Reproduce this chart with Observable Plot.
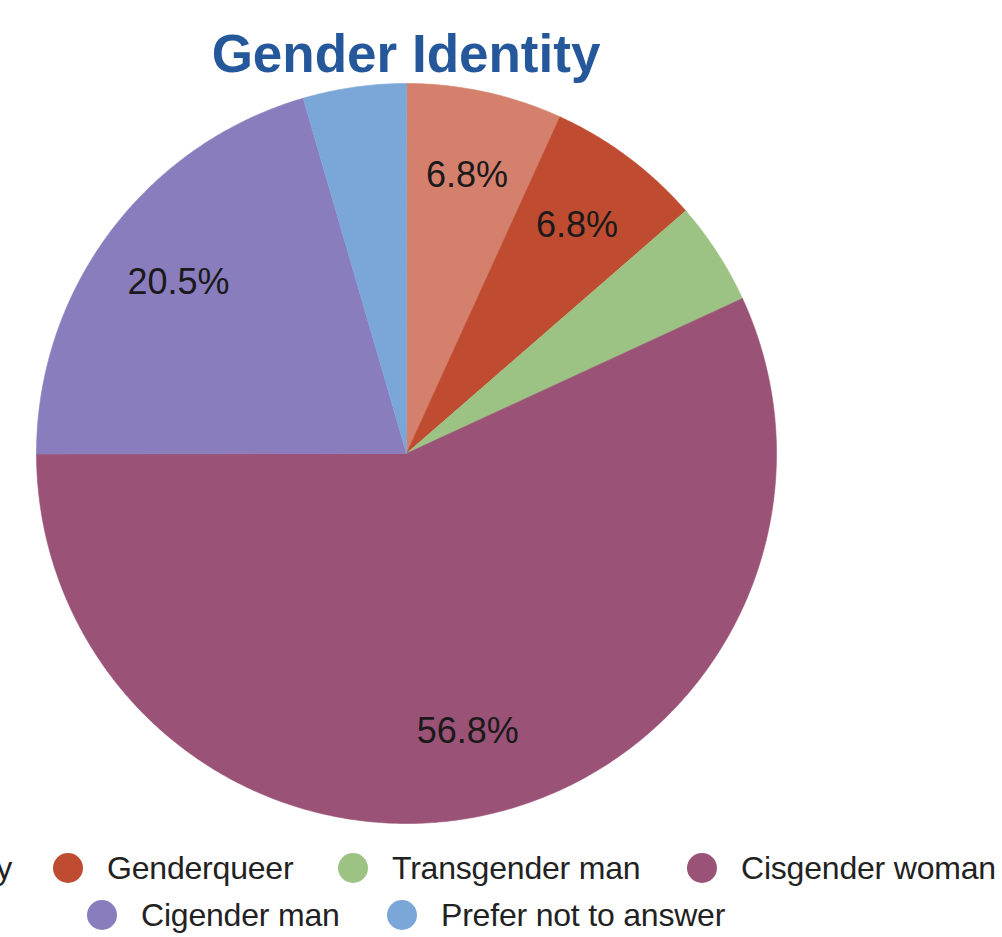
<!DOCTYPE html>
<html>
<head>
<meta charset="utf-8">
<script src="https://cdn.jsdelivr.net/npm/d3@7"></script>
<script src="https://cdn.jsdelivr.net/npm/@observablehq/plot@0.6"></script>
<style>
  html, body { margin: 0; padding: 0; background: #fff; }
  body { width: 1002px; height: 937px; position: relative; overflow: hidden;
         font-family: "Liberation Sans", Arial, sans-serif; }
  #title { position: absolute; left: 0; width: 812px; top: 27px; text-align: center;
           font-size: 53px; line-height: 54px; font-weight: bold; color: #25589a; white-space: nowrap; }
  #chart { position: absolute; left: 0; top: 73px; }
  .item { position: absolute; height: 32px; display: flex; align-items: center; white-space: nowrap; }
  .dot { width: 30px; height: 30px; border-radius: 50%; margin-right: 24px; flex: none; }
  .lab { font-size: 32px; line-height: 32px; color: #222; letter-spacing: -0.2px; }
</style>
</head>
<body>
<div id="title">Gender Identity</div>
<div id="chart"></div>
<div id="legend"></div>
<script>
// ---- data ----
const categories = ["Non-binary", "Genderqueer", "Transgender man", "Cisgender woman", "Cigender man", "Prefer not to answer"];
const percents   = [6.8, 6.8, 4.5, 56.8, 20.5, 4.5];
const colors     = ["#d4806c", "#bf4b31", "#9dc384", "#9a5276", "#8a7dbd", "#7aa7d8"];

// ---- layout ----
const W = 1002, H = 760;
const cx = 406, cy = 380, R = 370;   // pie centre / radius in SVG pixels
const labelRatio = 0.77;

const rows = categories.map((c, i) => ({key: c, value: percents[i]}));
const arcs = d3.pie().sort(null).value(d => d.value)(rows);

const pts = arcs.flatMap(a => {
  const n = Math.max(2, Math.ceil((a.endAngle - a.startAngle) / (Math.PI / 360)));
  const out = [{key: a.data.key, x: 0, y: 0}];
  for (let i = 0; i <= n; i++) {
    const t = a.startAngle + (a.endAngle - a.startAngle) * i / n;
    out.push({key: a.data.key, x: Math.sin(t), y: Math.cos(t)});
  }
  return out;
});

const labels = arcs.filter(a => a.data.value > 5).map(a => {
  const t = (a.startAngle + a.endAngle) / 2;
  return {x: labelRatio * Math.sin(t), y: labelRatio * Math.cos(t), text: a.data.value.toFixed(1) + "%"};
});

const chart = Plot.plot({
  width: W, height: H, margin: 0,
  style: {fontFamily: '"Liberation Sans", Arial, sans-serif', background: "transparent"},
  x: {domain: [-cx / R, (W - cx) / R], axis: null},
  y: {domain: [-(H - cy) / R, cy / R], axis: null},
  color: {domain: categories, range: colors},
  marks: [
    Plot.line(pts, {x: "x", y: "y", z: "key", fill: "key", stroke: "key", strokeWidth: 0.6, curve: "linear-closed"}),
    Plot.text(labels, {x: "x", y: "y", text: "text", fontSize: 36, fill: "#1a1a1a"})
  ]
});
document.getElementById("chart").appendChild(chart);

// ---- legend ----
const legendPos = [
  {right: 990, top: 852},   // Non-binary (cut off at left edge)
  {left: 53,  top: 852},
  {left: 338, top: 852},
  {left: 687, top: 852},
  {left: 87,  top: 899},
  {left: 387, top: 899}
];
const legend = document.getElementById("legend");
categories.forEach((c, i) => {
  const it = document.createElement("div");
  it.className = "item";
  const p = legendPos[i];
  if (p.left !== undefined) it.style.left = p.left + "px";
  if (p.right !== undefined) it.style.right = p.right + "px";
  it.style.top = p.top + "px";
  const dot = document.createElement("div");
  dot.className = "dot";
  dot.style.background = colors[i];
  const lab = document.createElement("span");
  lab.className = "lab";
  lab.textContent = c;
  it.appendChild(dot); it.appendChild(lab);
  legend.appendChild(it);
});
</script>
</body>
</html>
